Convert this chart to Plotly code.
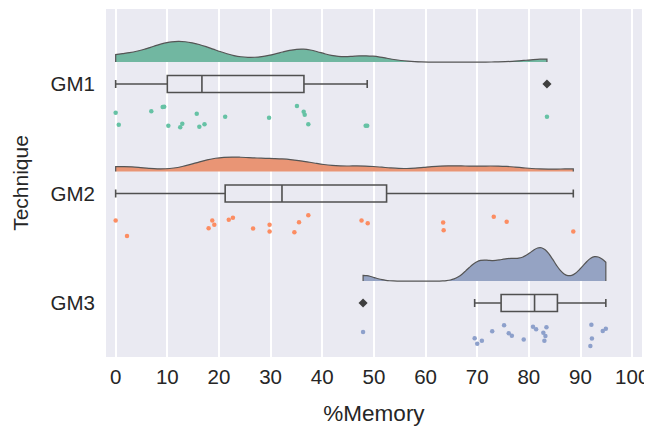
import numpy as np
import plotly.graph_objects as go

categories = ["GM1", "GM2", "GM3"]

gm1 = [0.0, 0.6, 6.9, 9.1, 9.4, 10.2, 12.5, 12.9, 15.7, 16.2, 17.2, 21.2,
       29.7, 35.1, 36.4, 36.6, 37.3, 48.4, 48.7, 83.5]
gm2 = [0.0, 2.2, 18.0, 18.7, 19.1, 21.9, 22.7, 26.6, 29.8, 29.8, 34.6, 35.5,
       37.3, 47.6, 48.8, 63.4, 63.5, 73.2, 75.7, 88.6]
gm3 = [47.9, 69.5, 70.0, 70.9, 72.9, 75.2, 76.1, 76.7, 79.0, 80.8, 81.4, 82.8,
       83.0, 83.2, 83.4, 91.9, 92.1, 92.2, 94.3, 94.9]

# strip-plot jitter (offset below category, in category units)
jit1 = [0.262, 0.372, 0.249, 0.21, 0.207, 0.381, 0.395, 0.363, 0.271, 0.39, 0.368,
        0.299, 0.308, 0.201, 0.253, 0.28, 0.368, 0.381, 0.381, 0.299]
jit2 = [0.247, 0.387, 0.317, 0.247, 0.286, 0.24, 0.222, 0.32, 0.286, 0.347, 0.353,
        0.262, 0.198, 0.247, 0.271, 0.264, 0.335, 0.213, 0.259, 0.347]
jit3 = [0.265, 0.321, 0.373, 0.345, 0.258, 0.203, 0.276, 0.298, 0.334, 0.216, 0.24,
        0.271, 0.345, 0.302, 0.221, 0.392, 0.199, 0.323, 0.255, 0.234]

x_ticks = list(range(0, 101, 10))

point_colors = ["#66c2a5", "#fc8d62", "#8da0cb"]
cloud_colors = ["#71b7a1", "#e99575", "#95a3c3"]
cloud_widths = [0.378, 0.266, 0.61]

datasets = [gm1, gm2, gm3]
jitters = [jit1, jit2, jit3]
positions = [2, 1, 0]

fig = go.Figure()
for name, data, jit, pos, pc, cc, w in zip(categories, datasets, jitters, positions,
                                          point_colors, cloud_colors, cloud_widths):
    arr = np.array(data)
    bw = 0.2 * np.std(arr, ddof=1)
    fig.add_trace(go.Violin(
        x=arr, y0=pos + 0.2, orientation="h", side="positive",
        width=w, bandwidth=bw, spanmode="hard", scalemode="width",
        fillcolor=cc, line=dict(color="#555555", width=1.2),
        points=False, box_visible=False, meanline_visible=False,
        opacity=1, showlegend=False, name=name))

    q1, med, q3 = np.percentile(arr, [25, 50, 75])
    iqr = q3 - q1
    inside = arr[(arr >= q1 - 1.5 * iqr) & (arr <= q3 + 1.5 * iqr)]
    lo, hi = inside.min(), inside.max()
    outl = arr[(arr < lo) | (arr > hi)]
    fig.add_trace(go.Box(
        y=[pos], q1=[q1], median=[med], q3=[q3], lowerfence=[lo], upperfence=[hi],
        orientation="h", width=0.155, whiskerwidth=0.47, boxpoints=False,
        fillcolor="rgba(0,0,0,0)", line=dict(color="#505050", width=1.6),
        showlegend=False, name=name))
    if len(outl):
        fig.add_trace(go.Scatter(
            x=outl, y=[pos] * len(outl), mode="markers",
            marker=dict(symbol="diamond", color="#3f3f3f", size=7),
            showlegend=False, name=name))
    fig.add_trace(go.Scatter(
        x=arr, y=[pos - j for j in jit], mode="markers",
        marker=dict(color=pc, size=4.5), showlegend=False, name=name))

# the page body adds an 8px margin, so the figure is sized/positioned to compensate
fig.update_layout(
    width=644, height=418,
    margin=dict(l=98, r=10, t=1, b=69),
    paper_bgcolor="white", plot_bgcolor="#eaeaf2",
    font=dict(family="Liberation Sans, Arial, sans-serif", size=20, color="#262626"),
    violinmode="overlay", boxmode="overlay",
)
fig.update_xaxes(
    range=[-1.87, 101.9], tickvals=x_ticks, ticktext=[str(t) for t in x_ticks],
    showgrid=True, gridcolor="white", gridwidth=1.5, zeroline=False,
    showline=False, ticks="", tickfont=dict(size=20.5), automargin=False,
    ticklabelstandoff=5,
    title=dict(text="%Memory", font=dict(size=22.5), standoff=23))
fig.update_yaxes(
    range=[-0.493, 2.685], tickvals=positions, ticktext=categories,
    showgrid=False, zeroline=False, showline=False, ticks="", automargin=False,
    tickfont=dict(size=20.5), ticklabelstandoff=10,
    title=dict(text="Technique", font=dict(size=21), standoff=16))

fig.write_html("out.html")
